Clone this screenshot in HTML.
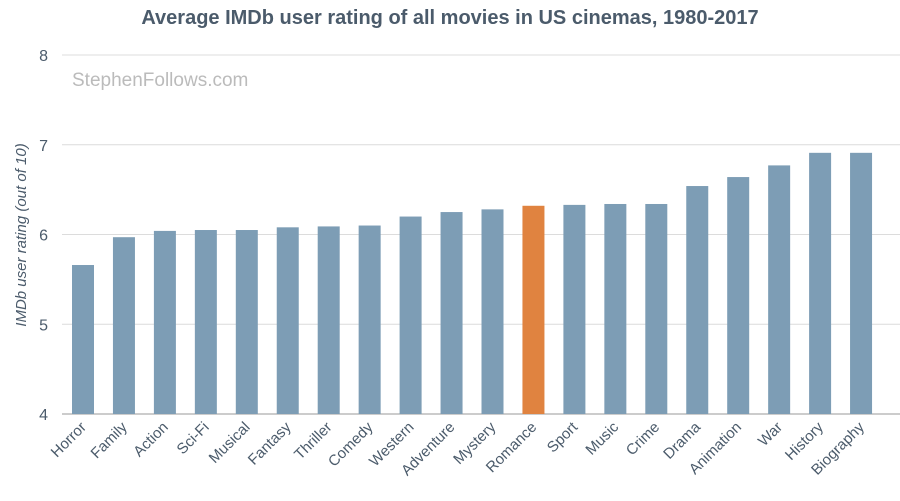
<!DOCTYPE html>
<html><head><meta charset="utf-8"><style>
body{margin:0;background:#fff;}
svg{display:block;font-family:"Liberation Sans",sans-serif;}
</style></head><body>
<svg id="chart" width="900" height="501">
<text x="450" y="24" text-anchor="middle" font-size="20" font-weight="bold" fill="#4b5b6b">Average IMDb user rating of all movies in US cinemas, 1980-2017</text>
<text x="72" y="86" font-size="19" fill="#bbbbbb">StephenFollows.com</text>
<text transform="translate(26,235) rotate(-90)" text-anchor="middle" font-size="15" font-style="italic" fill="#4b5b6b">IMDb user rating (out of 10)</text>
<g id="grid"></g><g id="bars"></g><g id="xl"></g>
</svg>
<script>
const categories=["Horror","Family","Action","Sci-Fi","Musical","Fantasy","Thriller","Comedy","Western","Adventure","Mystery","Romance","Sport","Music","Crime","Drama","Animation","War","History","Biography"];
const ratings=[5.66,5.97,6.04,6.05,6.05,6.08,6.09,6.10,6.20,6.25,6.28,6.32,6.33,6.34,6.34,6.54,6.64,6.77,6.91,6.91];
const yTicks=[4,5,6,7,8];
const highlight="Romance";
const NS="http://www.w3.org/2000/svg";
const y=v=>414-(v-4)*89.75;
const x=i=>83+i*40.95;
function mk(t,a,p){const e=document.createElementNS(NS,t);for(const k in a)e.setAttribute(k,a[k]);p.appendChild(e);return e;}
const g=document.getElementById('grid'),b=document.getElementById('bars'),xl=document.getElementById('xl');
yTicks.forEach(v=>{
const l=mk('line',{x1:62,x2:900,y1:y(v),y2:y(v),stroke:v===4?'#999':'#dcdcdc','stroke-width':1},g);


const t=mk('text',{x:48,y:y(v)+6,'text-anchor':'end','font-size':16,fill:'#4b5b6b'},g);t.textContent=v;


});
categories.forEach((c,i)=>{
const r=mk('rect',{x:x(i)-11,y:y(ratings[i]),width:22,height:y(4)-y(ratings[i]),fill:c===highlight?'#e08340':'#7d9db5'},b);


const t=mk('text',{transform:`translate(${x(i)+4},${428}) rotate(-45)`,'text-anchor':'end','font-size':15,fill:'#4b5b6b'},xl);t.textContent=c;


});
</script>
</body></html>
